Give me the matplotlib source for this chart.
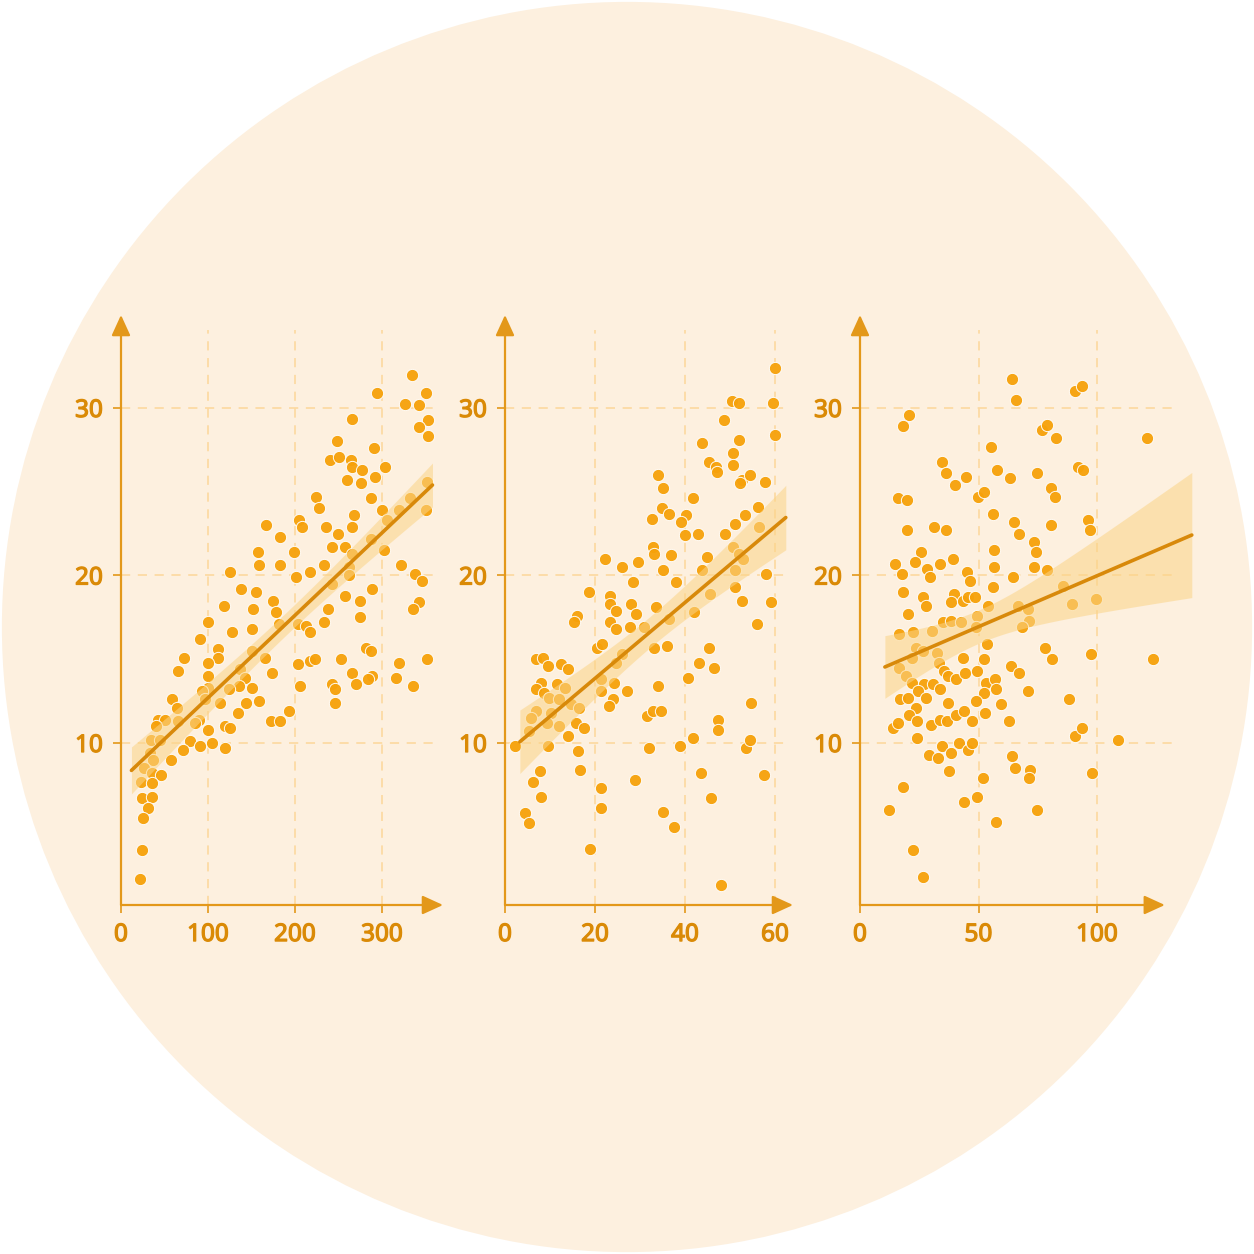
import numpy as np
import matplotlib
matplotlib.use("Agg")
import matplotlib.pyplot as plt
from matplotlib.patches import Circle
import matplotlib.patheffects as pe

plt.rcParams['font.family'] = ['Noto Sans', 'DejaVu Sans']

# ---------------- data ----------------
tv_x = [334,294,326,343,351,265,353,342,353,248, 240,250,291,264,265,277,303,260,276,292,
        352,224,228,287,332,300,320,350,306,268, 205,208,167,236,265,183,249,287,243,257,
        158,199,266,159,183,233,262,302,322,125, 217,201,338,346,138,155,175,178,242,257,
        262,288,118,152,182,238,233,275,275,343, 336,100,128,150,91,204,213,217,111,112,
        150,165,204,217,223,253,282,287,320,352, 72,65,100,100,100,137,173,266,288,284,
        270,316,336,243,246,246,206,143,136,150, 93,97,114,124,144,159,134,59,64,65,
        43,50,40,90,85,100,120,125,172,183, 193,34,45,79,105,71,91,119,33,37,
        57,27,36,46,23,36,24,36,31,25, 24,22]
tv_y = [31.96,30.87,30.25,30.17,30.87,29.36,29.3,28.86,28.3,28.0, 26.9,27.1,27.6,26.9,26.5,26.3,26.5,25.7,25.5,25.9,
        25.6,24.7,24.0,24.6,24.6,23.9,23.9,23.9,23.3,23.6, 23.3,22.9,23.0,22.9,22.9,22.3,22.5,22.2,21.7,21.7,
        21.4,21.4,21.3,20.6,20.6,20.6,20.5,21.5,20.6,20.2, 20.2,19.9,20.1,19.7,19.2,19.0,18.5,17.8,19.5,18.8,
        20.0,19.2,18.2,18.0,17.1,18.0,17.2,18.5,17.5,18.4, 18.0,17.2,16.6,16.8,16.2,17.1,17.0,16.6,15.6,15.1,
        15.5,15.1,14.7,14.9,15.0,15.0,15.7,15.5,14.8,15.0, 15.1,14.3,14.8,14.0,13.3,14.4,14.2,14.2,14.0,13.8,
        13.5,13.9,13.4,13.5,13.2,12.4,13.4,13.9,13.4,13.3, 13.1,12.6,12.4,13.2,12.4,12.5,11.8,12.6,12.1,11.3,
        11.4,11.4,11.0,11.4,11.2,10.8,11.0,10.9,11.3,11.3, 11.9,10.2,10.2,10.1,10.0,9.6,9.8,9.7,9.4,9.0,
        9.0,8.5,8.2,8.1,7.7,7.6,6.7,6.8,6.1,5.5, 3.6,1.9]

radio_x = [60.1,50.4,51.9,59.6,48.7,60.0,52.1,43.8,50.7,45.3, 46.9,47.1,50.7,33.9,52.6,52.3,54.5,57.8,35.0,41.7,
           34.9,36.5,32.6,40.2,39.1,40.0,42.9,48.8,51.2,53.3, 56.3,56.4,32.8,33.0,36.9,35.0,22.3,29.5,25.9,44.9,
           43.8,50.6,51.9,52.8,51.0,57.9,51.1,52.6,59.1,38.0, 28.4,18.6,23.3,23.3,24.7,27.9,29.1,33.6,42.1,45.6,
           16.0,15.3,23.3,24.7,27.7,30.9,36.4,56.1,20.4,21.6, 26.1,33.2,36.1,45.3,6.9,8.4,9.6,12.5,14.1,24.7,
           43.0,46.4,7.9,6.9,8.6,11.6,13.3,21.4,24.3,27.1, 21.3,33.9,40.7,9.7,12.1,14.7,16.5,23.9,23.2,6.9,
           5.8,10.2,9.3,12.1,15.8,17.6,14.1,5.3,31.6,32.8, 34.7,2.3,9.5,16.3,31.9,38.9,41.7,47.3,47.3,54.7,
           53.6,54.5,7.7,6.3,7.9,16.6,28.9,21.4,21.3,4.5, 5.3,18.9,35.2,37.6,43.6,45.8,48.1,57.6]
radio_y = [32.4,30.4,30.3,30.3,29.3,28.4,28.1,27.9,27.3,26.8, 26.5,26.2,26.6,26.0,25.7,25.5,26.0,25.6,25.2,24.6,
           24.0,23.7,23.4,23.6,23.2,22.4,22.5,22.5,23.1,23.6, 24.1,22.9,21.7,21.3,21.2,20.3,21.0,20.8,20.5,21.1,
           20.3,21.7,21.3,21.0,20.3,20.1,19.3,18.5,18.4,19.6, 19.6,19.0,18.8,18.3,17.9,18.3,17.7,18.1,17.8,18.9,
           17.6,17.2,17.2,16.8,16.9,16.9,17.4,17.1,15.7,15.9, 15.3,15.7,15.8,15.7,15.0,15.1,14.6,14.7,14.4,14.8,
           14.8,14.5,13.6,13.2,13.0,13.5,13.3,13.8,13.6,13.1, 13.1,13.4,13.9,12.7,12.6,12.3,12.1,12.6,12.2,11.9,
           11.5,11.8,11.2,11.0,11.2,10.9,10.4,10.7,11.6,11.9, 11.9,9.8,9.8,9.5,9.7,9.8,10.3,11.4,10.8,12.4,
           9.7,10.2,8.3,7.7,6.8,8.4,7.8,7.3,6.1,5.8, 5.2,3.7,5.9,5.0,8.2,6.7,1.5,8.1]

news_x = [64.3,65.8,90.7,93.5,20.7,18.0,76.7,78.8,82.6,121.2, 55.1,34.7,36.3,40.1,44.7,57.7,63.3,74.5,91.8,94.0,
          49.6,52.3,80.4,82.3,15.9,19.8,56.1,96.3,97.0,65.1, 66.9,80.7,31.2,36.1,20.0,73.6,74.1,56.5,25.7,14.8,
          23.3,33.8,39.1,28.1,29.7,17.9,45.3,46.4,56.5,64.7, 73.6,78.8,85.5,56.3,18.1,26.4,27.8,39.8,38.4,43.6,
          45.4,48.7,54.2,66.8,70.7,99.6,89.6,20.1,35.0,38.4, 42.6,49.2,48.8,30.2,16.6,22.5,71.4,68.4,23.8,26.7,
          21.9,32.4,53.4,43.6,52.5,78.1,80.9,97.3,123.5,16.3, 19.4,33.5,35.6,37.3,40.4,44.4,49.2,63.6,66.9,22.1,
          27.0,30.9,33.8,24.3,53.2,56.9,57.2,52.5,70.7,16.9, 20.1,28.0,23.8,37.0,48.8,59.5,88.3,20.8,23.9,30.1,
          33.9,36.6,40.4,43.9,52.7,47.1,62.9,14.1,24.2,34.7, 38.3,41.6,45.4,47.3,29.3,32.8,37.6,52.0,64.3,65.4,
          71.7,71.4,90.9,93.7,108.9,98.0,18.0,12.4,43.9,49.5, 57.5,74.5,22.2,26.4,16.2]
news_y = [31.7,30.5,31.0,31.3,29.6,28.9,28.7,29.0,28.2,28.2, 27.7,26.8,26.1,25.4,25.9,26.3,25.8,26.1,26.5,26.3,
          24.7,25.0,25.2,24.7,24.6,24.5,23.7,23.3,22.7,23.2, 22.5,23.0,22.9,22.7,22.7,22.0,21.4,21.5,21.4,20.7,
          20.8,20.7,21.0,20.4,19.9,20.1,20.2,19.7,20.5,19.9, 20.5,20.3,19.4,19.3,19.0,18.7,18.2,18.9,18.4,18.5,
          18.7,18.7,18.2,18.2,18.0,18.6,18.3,17.7,17.2,17.3, 17.2,17.6,16.9,16.7,16.5,16.6,17.3,16.9,15.7,15.5,
          15.1,15.4,15.9,15.1,15.0,15.7,15.0,15.3,15.0,14.5, 14.0,14.8,14.3,14.0,13.8,14.2,14.3,14.6,14.2,13.6,
          13.5,13.5,13.2,13.1,13.6,13.8,13.2,13.0,13.1,12.6, 12.7,12.7,12.1,12.4,12.5,12.3,12.6,11.7,11.3,11.1,
          11.4,11.3,11.7,11.9,11.8,11.3,11.3,10.9,10.3,9.8, 9.4,10.0,9.6,10.0,9.3,9.1,8.3,7.9,9.2,8.5,
          8.4,7.9,10.4,10.9,10.2,8.2,7.4,6.0,6.5,6.8, 5.3,6.0,3.6,2.0,11.2]

y_ticks = [10, 20, 30]
x_ticks = [[0, 100, 200, 300], [0, 20, 40, 60], [0, 50, 100]]

# ---------------- styling / layout ----------------
W = 1254.0
bg_circle = '#fdf0df'
axis_col = '#e3981a'
label_col = '#da8a06'
grid_col = '#fcd699'
pt_col = '#f6a10a'
line_col = '#d8890a'
band_col = '#fbd487'

ylim = (0.33, 35.55)
panels = [
    dict(x=tv_x, y=tv_y, left=121, right=443, xmax=370.1, fit=(12, 358), arrow=1.0, hgrid=0.97),
    dict(x=radio_x, y=radio_y, left=505, right=793, xmax=64.0, fit=(3.3, 62.4), arrow=1.0, hgrid=0.98),
    dict(x=news_x, y=news_y, left=860, right=1195, xmax=141.35, fit=(10.5, 140), arrow=0.91, hgrid=0.934),
]
bottom_px, top_px = 905, 315

fig = plt.figure(figsize=(12.54, 12.54), dpi=100)
fig.patch.set_facecolor('white')

bg = fig.add_axes([0, 0, 1, 1], zorder=-10)
bg.set_xlim(0, 1)
bg.set_ylim(0, 1)
bg.axis('off')
bg.add_patch(Circle((0.5, 0.5), 0.4985, facecolor=bg_circle, edgecolor='none'))

for p, xt in zip(panels, x_ticks):
    ax = fig.add_axes([p['left'] / W, 1 - bottom_px / W,
                       (p['right'] - p['left']) / W, (bottom_px - top_px) / W], zorder=1)
    ax.set_facecolor('none')
    ax.set_xlim(0, p['xmax'])
    ax.set_ylim(*ylim)
    for s in ax.spines.values():
        s.set_visible(False)

    # grid
    for yv in y_ticks:
        ax.axhline(yv, xmin=0, xmax=p['hgrid'], color=grid_col, lw=1.1, ls=(0, (6, 5)), zorder=0.5)
    for xv in xt[1:]:
        ax.axvline(xv, ymin=0, ymax=0.975, color=grid_col, lw=1.1, ls=(0, (6, 5)), zorder=0.5)

    x = np.asarray(p['x'], float)
    y = np.asarray(p['y'], float)
    ax.scatter(x, y, s=78, color=pt_col, edgecolor='white', linewidth=0.7, alpha=0.95, zorder=2)

    # regression with 95% CI
    n = len(x)
    b1, b0 = np.polyfit(x, y, 1)
    resid = y - (b0 + b1 * x)
    s_err = np.sqrt(np.sum(resid ** 2) / (n - 2))
    xm = x.mean()
    sxx = np.sum((x - xm) ** 2)
    xs = np.linspace(p['fit'][0], p['fit'][1], 100)
    ys = b0 + b1 * xs
    half = 1.97 * s_err * np.sqrt(1.0 / n + (xs - xm) ** 2 / sxx)
    ax.fill_between(xs, ys - half, ys + half, color=band_col, alpha=0.55, lw=0, zorder=3)
    ax.plot(xs, ys, color=line_col, lw=2.6, solid_capstyle='round', zorder=4)

    # axes with arrows
    for tip in [(0, 1), (p['arrow'], 0)]:
        ax.annotate('', xy=tip, xytext=(0, 0), xycoords='axes fraction',
                    arrowprops=dict(arrowstyle='-|>,head_length=0.7,head_width=0.32',
                                    color=axis_col, lw=1.6, mutation_scale=18,
                                    shrinkA=0, shrinkB=0), zorder=5)

    ax.set_xticks(xt)
    ax.set_yticks(y_ticks)
    ax.tick_params(direction='out', length=6, width=1.2, color=axis_col,
                   labelcolor=label_col, labelsize=17.5, pad=7)
    for lab in ax.get_xticklabels() + ax.get_yticklabels():
        lab.set_path_effects([pe.withStroke(linewidth=0.9, foreground=label_col)])

fig.savefig('out.png', dpi=100, facecolor='white')
